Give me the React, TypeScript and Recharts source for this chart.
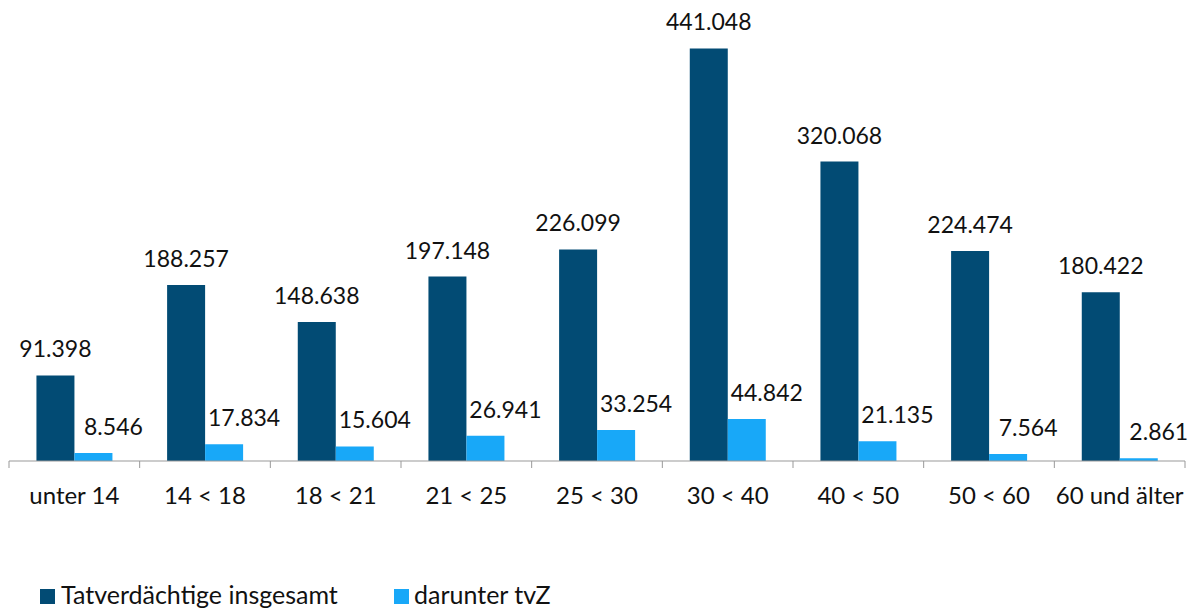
import React from 'react';
import { BarChart, Bar, XAxis, YAxis, Legend, LabelList } from 'recharts';

const ageGroups = ['unter 14', '14 < 18', '18 < 21', '21 < 25', '25 < 30', '30 < 40', '40 < 50', '50 < 60', '60 und älter'];
const totalSuspects = [91398, 188257, 148638, 197148, 226099, 441048, 320068, 224474, 180422];
const tvzSuspects = [8546, 17834, 15604, 26941, 33254, 44842, 21135, 7564, 2861];

const DARK = '#024b74';
const LIGHT = '#18a8f8';
const FONT = 'Lato, "Noto Sans", sans-serif';
const FS = 24;
const FS_NUM = 23;
const FS_LEGEND = 25;

const data = ageGroups.map((name, i) => ({ name, total: totalSuspects[i], tvz: tvzSuspects[i] }));

// German number format: 91.398
const fmt = (v: number) => String(v).replace(/\B(?=(\d{3})+(?!\d))/g, '.');

const makeLabel = (dx: number) => (props: any) => {
  const { x, y, width, value } = props;
  return (
    <text x={x + width / 2 + dx} y={y - 18} textAnchor="middle" fontSize={FS_NUM} fontFamily={FONT} fill="#111">
      {fmt(value)}
    </text>
  );
};

const HALF_BAND = 1176 / 9 / 2;

const AxisTick = (props: any) => {
  const { x, payload, index } = props;
  const axisY = 461;
  return (
    <g>
      <line x1={x - HALF_BAND} y1={axisY} x2={x - HALF_BAND} y2={axisY + 7} stroke="#999" />
      {index === ageGroups.length - 1 && (
        <line x1={x + HALF_BAND} y1={axisY} x2={x + HALF_BAND} y2={axisY + 7} stroke="#999" />
      )}
      <text x={x} y={axisY + 43} textAnchor="middle" fontSize={FS} fontFamily={FONT} fill="#111">
        {payload.value}
      </text>
    </g>
  );
};

const LegendContent = () => (
  <svg width={1192} height={40} style={{ display: 'block' }}>
    <rect x={40} y={16} width={15} height={15} fill={DARK} />
    <text x={61} y={31} fontSize={FS_LEGEND} fontFamily={FONT} fill="#111">Tatverdächtige insgesamt</text>
    <rect x={394} y={16} width={15} height={15} fill={LIGHT} />
    <text x={414} y={31} fontSize={FS_LEGEND} fontFamily={FONT} fill="#111">darunter tvZ</text>
  </svg>
);

export default function App() {
  return (
    <div style={{ width: 1192, height: 613 }}>
      <style>{'body{margin:0}'}</style>
      <BarChart
        width={1192}
        height={613}
        data={data}
        margin={{ top: 40, right: 7, bottom: 0, left: 9 }}
        barGap={0}
        barCategoryGap="21%"
      >
        <XAxis
          dataKey="name"
          height={112}
          axisLine={{ stroke: '#999' }}
          tickLine={false}
          tick={<AxisTick />}
          interval={0}
        />
        <YAxis hide domain={[0, 450000]} />
        <Legend
          verticalAlign="bottom"
          height={40}
          wrapperStyle={{ left: 0, bottom: 0, width: 1192 }}
          content={<LegendContent />}
        />
        <Bar dataKey="total" fill={DARK} isAnimationActive={false}>
          <LabelList dataKey="total" content={makeLabel(0)} />
        </Bar>
        <Bar dataKey="tvz" fill={LIGHT} isAnimationActive={false}>
          <LabelList dataKey="tvz" content={makeLabel(20)} />
        </Bar>
      </BarChart>
    </div>
  );
}
